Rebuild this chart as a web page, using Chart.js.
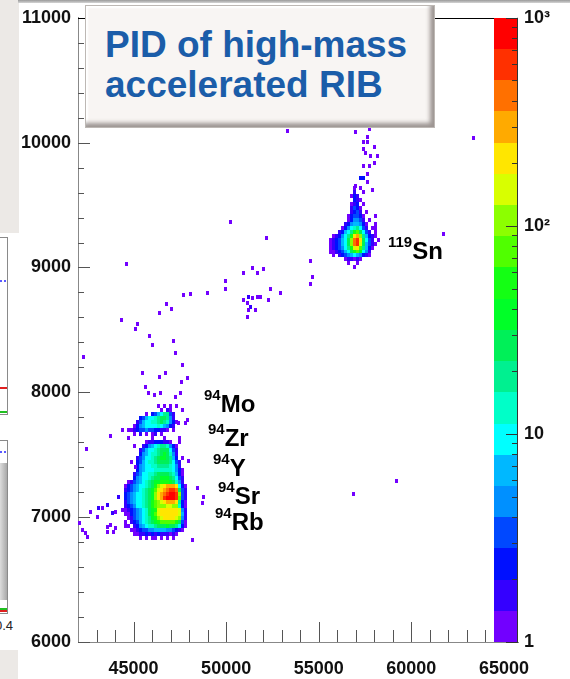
<!DOCTYPE html>
<html><head><meta charset="utf-8">
<script src="https://cdn.jsdelivr.net/npm/chart.js@4.4.1/dist/chart.umd.min.js"></script>
<style>
html,body{margin:0;padding:0;background:#fff;}
#wrap{position:relative;width:570px;height:679px;overflow:hidden;background:#fff;font-family:'Liberation Sans',Arial,sans-serif;}
#c{position:absolute;left:0;top:0;}
.d{position:absolute;}
#title{position:absolute;left:85px;top:5px;width:350px;height:123px;box-sizing:border-box;background:#f8f5f3;border:1px solid #bdb8b4;
 box-shadow:inset -5px -5px 4px -1px rgba(80,70,65,.55), inset 2px 2px 2px rgba(255,255,255,1);
 padding:19px 0 0 19px;color:#1b5da9;font-weight:bold;font-size:37px;line-height:40px;white-space:nowrap;}
.lbl{position:absolute;font-weight:bold;font-size:24px;line-height:24px;color:#000;white-space:nowrap;}
.lbl span{font-size:15px;line-height:0;vertical-align:12px;}
</style></head>
<body><div id="wrap">
<div class="d" style="left:0;top:0;width:19px;height:233px;background:#ece9e6"></div>
<div class="d" style="left:18px;top:0;width:552px;height:3px;background:linear-gradient(#9a9a9a,#d4d4d4)"></div>
<div class="d" style="left:-2px;top:237px;width:8px;height:176px;border:1px solid #8a8a8a;background:#fff"></div>
<div class="d" style="left:0;top:280px;width:6px;border-top:2px dotted #5a5aff"></div>
<div class="d" style="left:0;top:387px;width:7px;height:2px;background:#e02020"></div>
<div class="d" style="left:0;top:411px;width:7px;height:2px;background:#20c020"></div>
<div class="d" style="left:-2px;top:440px;width:8px;height:172px;border:1px solid #8a8a8a;background:#fff"></div>
<div class="d" style="left:0;top:451px;width:6px;border-top:2px dotted #5a5aff"></div>
<div class="d" style="left:0;top:463px;width:7px;height:137px;background:linear-gradient(90deg,#dcdcdc,#a8a8a8)"></div>
<div class="d" style="left:0;top:608px;width:7px;height:2px;background:#20c020"></div>
<div class="d" style="left:0;top:610px;width:7px;height:2px;background:#e02020"></div>
<div class="d" style="left:-5px;top:618px;font-size:13px;color:#222">0.4</div>
<div class="d" style="left:0;top:650px;width:18px;height:29px;background:#ece9e6"></div>
<canvas id="c" width="570" height="679" style="width:570px;height:679px"></canvas>
<div id="title">PID of high-mass<br>accelerated RIB</div>
<div class="lbl" style="left:204px;top:392px"><span>94</span>Mo</div>
<div class="lbl" style="left:208px;top:426px"><span>94</span>Zr</div>
<div class="lbl" style="left:213px;top:456px"><span>94</span>Y</div>
<div class="lbl" style="left:218px;top:484px"><span>94</span>Sr</div>
<div class="lbl" style="left:215px;top:510px"><span>94</span>Rb</div>
<div class="lbl" style="left:388px;top:239px"><span>119</span>Sn</div>
</div>
<script>
// ---------- data ----------
const X_MIN = 42000, X_MAX = 65760;
const Y_MIN = 6000, Y_MAX = 11000;
const Z_MIN = 1, Z_MAX = 1000;
const X_TICK_LABELS = [45000, 50000, 55000, 60000, 65000];
const Y_TICK_LABELS = [6000, 7000, 8000, 9000, 10000, 11000];
const Z_TICK_LABELS = {1: '1', 10: '10', 100: '10\u00B2', 1000: '10\u00B3'};
const BIN_DX = 162, BIN_DY = 32;

// representative counts for level characters '1'..'9','a'..'k'
const LEVEL_COUNTS = [1,1.6,2,3,5,7,9,13,19,27,38,54,76,105,150,215,300,420,600,850];

// 94-isobar group (Mo, Zr, Y, Sr, Rb): first cell centre and rows of levels
const MAIN_X0 = 44566, MAIN_Y0 = 7888;
const MAIN_ROWS = [
"...........1.1.1.1....",
"............1.21...1..",
".......1.34679942.....",
".....3467789aa952.....",
"....24677889a98531....",
"...13567777876532.....",
".11234454433221.1.....",
"...1.2.1.12.1.........",
".1.......1...1....1...",
".......122333221..1...",
"...1..235678998531....",
".....2467789aaa742....",
".....3567889aba852....",
"....2457789abba963.1..",
"..1.3467889aaaa9742...",
"....356778899998752...",
"....3567778888887531..",
"...24577889aaaa98631..",
"...3567789aabbba9742..",
".12456789abbcccba852..",
"134567789acefghhhg731.",
"23456789abdfghijjia42.",
"34567789abeghijkkje42.",
"34567789abeghjkkkjd42.",
"24567789acdefghhhg931.",
"23457789acdeeeffee831.",
"12345678abcfggggggf52.",
"11345678abdfggggggf62.",
".12456789bcefggggfe52.",
"1.2346789abcdddddca41.",
"11.23567889aaabaa9731.",
"..1123445566665543 21..".replace(' ',''),
"...112232323222121....",
".....1.1.11.1.1.1....."
];

// 119Sn group
const SN_X0 = 55640, SN_Y0 = 9640;
const SN_ROWS = [
"........1.1......",
"........2..1.....",
".......132.......",
"........321......",
".......123.1.....",
".......2431......",
".......2342.1....",
"......134431...1.",
"......135542.1...",
".....23566531..1.",
"....135789742.11.",
"...23679cda742.1.",
".123579cghe96321.",
"123467aeijga742.1",
"123467aeijfa6421.",
"1234579cfgd9631..",
"1123467acdb752...",
".1.23456765321...",
".....122121......",
"......1..1.......",
"........1........"
];

// isolated bins: [x, y, level]
const ISOLATED = [
[53290,10096,1],[56964,10088,1],[57720,10112,1],[57612,10048,1],[57396,10008,1],[57612,10008,1],
[57990,9968,1],[57396,9952,1],[57504,9920,1],[57774,9896,1],[58152,9896,1],[57990,9840,1],
[57396,9816,1],[57720,9816,1],[57612,9752,1],[57234,9720,3],[57396,9720,3],[57612,9688,1],
[56964,9656,1],[57882,9624,1],[63338,10040,1],[50211,9368,1],[52156,9240,1],[61717,9272,1],
[54533,9048,1],[54641,8920,1],[54533,8864,1],
[50913,8952,1],[51399,8992,1],[51670,8952,1],[51994,8984,1],
[49941,8888,1],[49941,8824,1],[48969,8792,1],[48050,8784,1],[47672,8776,1],
[52372,8824,1],[52912,8792,1],[52264,8736,1],
[50913,8736,1],[51183,8760,2],[51399,8752,1],[51670,8760,1],[51832,8760,1],
[51129,8712,1],[51291,8680,2],[51183,8656,1],[51562,8656,1],[51129,8600,1],
[44593,9024,1],[44323,8576,1],[45187,8544,1],[45079,8504,1],[45835,8448,1],[45997,8376,1],
[46376,8632,1],[46754,8704,1],[47024,8664,1],
[47132,8408,1],[47240,8312,1],[47618,8216,1],[45457,8152,1],[46376,8120,1],[46700,8152,1],
[47564,8080,1],[47888,8112,1],[42270,8280,1],
[45619,8040,1],[45781,7992,1],[46106,7976,1],[46430,7992,1],[47240,7960,1],[47510,7992,1],
[47888,7776,1],[47402,7752,1],[47780,7752,1],
[44377,7696,1],[43729,7648,1],[42432,7544,1],[47942,7448,1],[45079,7400,1],
[48428,7232,1],[48753,7160,1],[48698,7112,1],[48158,6816,1],
[44377,7056,1],[43729,6936,1],[43891,6880,1],[42648,7040,1],[43026,7000,1],[43080,7072,2],
[43296,7072,1],[43567,7096,2],[43837,7032,2],[43999,7040,1],[44161,7160,2],
[42054,6952,1],[42216,6896,1],[42378,6872,1],[42486,6840,1],[43567,6920,1],[43567,6880,1],[43999,6912,1],
[56856,7184,1],[59178,7288,1]
];

// colour palette, from lowest to highest band
const PALETTE = ['#7200ff','#3400ff','#0010ff','#0048ff','#0090ff','#00b8ff','#00ffff','#00ffc8','#00f090','#00f058',
                 '#00ff28','#14ff14','#50ff00','#8cff00','#d8ff00','#ffe600','#ffaa00','#ff7000','#ff3000','#ff0000'];
const N_BANDS = PALETTE.length;

// ---------- build ----------
const DECADES = Math.log10(Z_MAX / Z_MIN);
const bandOf = v => Math.max(0, Math.min(N_BANDS - 1, Math.floor(Math.log10(v / Z_MIN) / DECADES * N_BANDS + 1e-9)));

function gridCells(rows, x0, y0) {
  const out = [];
  rows.forEach((row, r) => {
    [...row].forEach((ch, c) => {
      if (ch === '.' || ch === ' ') return;
      const lvl = parseInt(ch, 36);
      out.push({x: x0 + c * BIN_DX, y: y0 - r * BIN_DY, v: LEVEL_COUNTS[lvl - 1]});
    });
  });
  return out;
}
const cells = [
  ...gridCells(MAIN_ROWS, MAIN_X0, MAIN_Y0),
  ...gridCells(SN_ROWS, SN_X0, SN_Y0),
  ...ISOLATED.map(([x, y, l]) => ({x, y, v: LEVEL_COUNTS[l - 1]}))
];

const SPRITES = PALETTE.map(col => {
  const cv = document.createElement('canvas');
  cv.width = 3; cv.height = 4;
  const g = cv.getContext('2d'); g.fillStyle = col; g.fillRect(0, 0, 3, 4);
  return cv;
});

const FONT = {family: "'Liberation Sans', Arial, sans-serif", size: 18, weight: 'bold'};

const decorPlugin = {
  id: 'decor',
  beforeDatasetsDraw(chart) { chart.ctx.imageSmoothingEnabled = false; },
  afterDatasetsDraw(chart) {
    const {ctx, chartArea: a, scales: {x: xs, y: ys, z: zs}} = chart;
    ctx.save();
    ctx.lineWidth = 1;
    ctx.strokeStyle = '#555';
    ctx.beginPath();
    for (let v = Y_MIN; v <= Y_MAX; v += 200) {
      const y = Math.round(ys.getPixelForValue(v)) + 0.5;
      const len = Y_TICK_LABELS.includes(v) ? 12 : 6;
      ctx.moveTo(a.left, y); ctx.lineTo(a.left + len, y);
    }
    for (let v = 43000; v <= 65000; v += 1000) {
      const x = Math.round(xs.getPixelForValue(v)) + 0.5;
      const len = X_TICK_LABELS.includes(v) ? 20 : 12;
      ctx.moveTo(x, a.bottom); ctx.lineTo(x, a.bottom - len);
    }
    ctx.stroke();
    // colour bar
    const barR = a.right, barL = a.right - 24;
    for (let i = 0; i < N_BANDS; i++) {
      const y0 = zs.getPixelForValue(Z_MIN * Math.pow(10, DECADES * i / N_BANDS));
      const y1 = zs.getPixelForValue(Z_MIN * Math.pow(10, DECADES * (i + 1) / N_BANDS));
      ctx.fillStyle = PALETTE[i];
      ctx.fillRect(barL, Math.round(y1), barR - barL, Math.round(y0) - Math.round(y1));
    }
    ctx.strokeStyle = '#000';
    ctx.beginPath();
    ctx.moveTo(a.left, Math.round(a.top) + 0.5); ctx.lineTo(barL, Math.round(a.top) + 0.5);
    ctx.stroke();
    ctx.strokeStyle = '#333';
    ctx.beginPath();
    ctx.moveTo(barR - 0.5, a.top); ctx.lineTo(barR - 0.5, a.bottom);
    for (let d = Z_MIN; d <= Z_MAX; d *= 10) {
      for (let m = 1; m <= 9; m++) {
        const v = d * m;
        if (v > Z_MAX) break;
        const y = Math.round(zs.getPixelForValue(v)) + 0.5;
        const len = m === 1 ? 12 : 6;
        ctx.moveTo(barR, y); ctx.lineTo(barR - len, y);
      }
    }
    ctx.stroke();
    ctx.restore();
  }
};

new Chart(document.getElementById('c'), {
  type: 'scatter',
  data: {
    datasets: [{
      data: cells,
      pointStyle: c => SPRITES[bandOf(c.raw.v)],
      pointRadius: 2,
      pointBorderWidth: 0,
      pointHoverRadius: 2
    }]
  },
  options: {
    responsive: false,
    animation: false,
    events: [],
    layout: {padding: {top: 17, left: 0, right: 0, bottom: 0}},
    plugins: {legend: {display: false}, tooltip: {enabled: false}, title: {display: false}},
    scales: {
      x: {
        type: 'linear', position: 'bottom', min: X_MIN, max: X_MAX,
        afterFit: s => { s.height = 37; },
        afterBuildTicks: s => { s.ticks = X_TICK_LABELS.map(value => ({value})); },
        grid: {display: false, drawTicks: false},
        border: {display: true, color: '#888', width: 1},
        ticks: {autoSkip: false, maxRotation: 0, font: FONT, color: '#111', padding: 16, callback: v => String(v)}
      },
      y: {
        type: 'linear', position: 'left', min: Y_MIN, max: Y_MAX,
        afterFit: s => { s.width = 78; },
        afterBuildTicks: s => { s.ticks = Y_TICK_LABELS.map(value => ({value})); },
        grid: {display: false, drawTicks: false},
        border: {display: true, color: '#888', width: 1},
        ticks: {autoSkip: false, font: FONT, color: '#111', padding: 7, callback: v => String(v)}
      },
      z: {
        type: 'logarithmic', axis: 'y', position: 'right', min: Z_MIN, max: Z_MAX,
        afterFit: s => { s.width = 52; },
        afterBuildTicks: s => { s.ticks = Object.keys(Z_TICK_LABELS).map(k => ({value: +k})); },
        grid: {display: false, drawTicks: false},
        border: {display: false},
        ticks: {autoSkip: false, font: FONT, color: '#111', padding: 6,
                callback: v => Z_TICK_LABELS[v] || ''}
      }
    }
  },
  plugins: [decorPlugin]
});
</script>
</body></html>
